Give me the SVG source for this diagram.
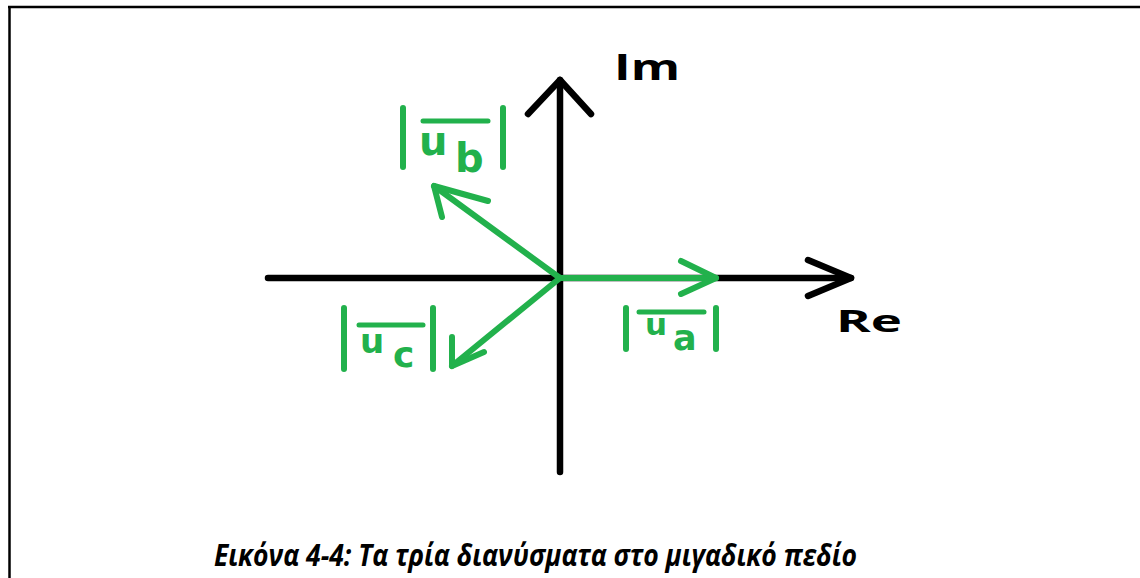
<svg xmlns="http://www.w3.org/2000/svg" width="1140" height="578" viewBox="0 0 1140 578">
<style>
.ax{stroke:#000;stroke-width:6.5;fill:none;stroke-linecap:round;stroke-linejoin:round}
.gv{stroke:#22b14c;stroke-width:6;fill:none;stroke-linecap:round;stroke-linejoin:round}
.bar{stroke:#22b14c;stroke-width:6;stroke-linecap:round}
.ov{stroke:#22b14c;stroke-width:5;stroke-linecap:round}
.gl{fill:#22b14c;font-family:"DejaVu Sans",Verdana,sans-serif;font-weight:bold}
.bl{fill:#000;font-family:"Open Sans","Liberation Sans",sans-serif;font-weight:bold}
.cap{fill:#000;font-family:"Open Sans","Liberation Sans",sans-serif;font-weight:bold;font-style:italic}
</style>
<rect width="1140" height="578" fill="#fff"/>
<g id="frame" stroke="#000" stroke-width="2.5" fill="none">
<line x1="9.5" y1="7" x2="9.5" y2="578"/>
<line x1="8" y1="7" x2="1140" y2="7"/>
</g>
<g id="connectors">
<g id="axis-re">
<line class="ax" x1="268" y1="278" x2="851" y2="278"/>
<polyline class="ax" points="808,260 851,278 808,296"/>
</g>
<g id="axis-im">
<line class="ax" x1="560" y1="80" x2="560" y2="472"/>
<polyline class="ax" points="528,114 560,80 591,114"/>
</g>
<g id="vec-ua">
<line class="gv" x1="560" y1="278" x2="716" y2="278"/>
<polyline class="gv" points="681,261 716,278 681,294"/>
</g>
<g id="vec-ub">
<line class="gv" x1="560" y1="278" x2="434" y2="186"/>
<polyline class="gv" points="488,201 434,186 442,217"/>
</g>
<g id="vec-uc">
<line class="gv" x1="560" y1="278" x2="452" y2="366"/>
<polyline class="gv" points="452,337 452,366 484,352"/>
</g>
</g>
<g id="label-im"><text class="bl" x="614" y="80" font-size="35" textLength="66" lengthAdjust="spacingAndGlyphs">Im</text></g>
<g id="label-re"><text class="bl" x="836" y="332" font-size="31" textLength="66" lengthAdjust="spacingAndGlyphs">Re</text></g>
<g id="label-ub">
<line class="bar" x1="403" y1="108" x2="403" y2="167"/>
<line class="bar" x1="503" y1="108" x2="503" y2="167"/>
<line class="ov" x1="423" y1="121" x2="488" y2="121"/>
<text class="gl" x="419" y="155" font-size="40">u</text>
<text class="gl" x="455" y="172" font-size="40">b</text>
</g>
<g id="label-uc">
<line class="bar" x1="344" y1="308" x2="344" y2="369"/>
<line class="bar" x1="433" y1="308" x2="433" y2="369"/>
<line class="ov" x1="359" y1="325" x2="423" y2="325"/>
<text class="gl" x="360" y="353" font-size="34">u</text>
<text class="gl" x="393" y="367" font-size="36">c</text>
</g>
<g id="label-ua">
<line class="bar" x1="626" y1="308" x2="626" y2="349"/>
<line class="bar" x1="716" y1="308" x2="716" y2="349"/>
<line class="ov" x1="639" y1="312" x2="704" y2="312"/>
<text class="gl" x="645" y="335" font-size="31">u</text>
<text class="gl" x="673" y="350" font-size="35">a</text>
</g>
<g id="caption">
<text class="cap" x="214" y="566" font-size="30" textLength="643" lengthAdjust="spacingAndGlyphs">Εικόνα 4-4: Τα τρία διανύσματα στο μιγαδικό πεδίο</text>
</g>
</svg>
